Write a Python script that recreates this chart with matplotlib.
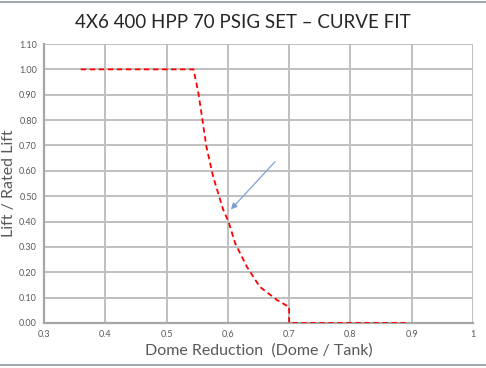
import matplotlib
matplotlib.use("Agg")
import matplotlib.pyplot as plt
from matplotlib.lines import Line2D

# Curve fit: lift ratio vs dome reduction
dome_ratio = [0.36, 0.544, 0.552, 0.565, 0.576, 0.5925, 0.601, 0.612, 0.631,
              0.652, 0.680, 0.699, 0.700, 0.700, 0.89]
lift_ratio = [1.00, 1.00, 0.906, 0.695, 0.577, 0.446, 0.400, 0.314, 0.222,
              0.143, 0.091, 0.064, 0.064, 0.0, 0.0]

arrow_tail = (0.677, 0.636)
arrow_head = (0.605, 0.448)

x_ticks = [0.3, 0.4, 0.5, 0.6, 0.7, 0.8, 0.9, 1.0]
x_tick_labels = ["0.3", "0.4", "0.5", "0.6", "0.7", "0.8", "0.9", "1"]
y_ticks = [0.0, 0.1, 0.2, 0.3, 0.4, 0.5, 0.6, 0.7, 0.8, 0.9, 1.0, 1.1]

plt.rcParams['font.family'] = ['Lato', 'DejaVu Sans']

fig = plt.figure(figsize=(4.86, 3.68), dpi=100)
ax = fig.add_axes([44/486, 1 - 323/368, (473-44)/486, (323-44)/368])

ax.set_xlim(0.3, 1.0)
ax.set_ylim(0.0, 1.1)
ax.set_xticks(x_ticks)
ax.set_xticklabels(x_tick_labels)
ax.set_yticks(y_ticks)
ax.set_yticklabels([f"{v:.2f}" for v in y_ticks])

grid_color = "#bfbfbf"
ax.grid(True, color=grid_color, linewidth=1.4)
ax.set_axisbelow(True)
for side in ["top", "right"]:
    ax.spines[side].set_visible(False)
for side in ["left", "bottom"]:
    ax.spines[side].set_color("#a6a6a6")
    ax.spines[side].set_linewidth(1.6)
ax.tick_params(length=0, labelsize=6.5, labelcolor="#595959", pad=5)

ax.plot(dome_ratio, lift_ratio, color="#ff0000", linestyle=(0, (3, 2)),
        linewidth=1.3, zorder=3)

ax.annotate("", xy=arrow_head, xytext=arrow_tail,
            arrowprops=dict(arrowstyle="-|>", color="#7f9fd4", lw=0.9,
                            mutation_scale=9, shrinkA=0, shrinkB=0),
            zorder=4)

ax.set_xlabel("Dome Reduction  (Dome / Tank)", fontsize=11.5, color="#595959",
              labelpad=3)
ax.set_ylabel("Lift / Rated Lift", fontsize=11.5, color="#595959")
ax.yaxis.set_label_coords(-0.066, 0.5)

fig.text(0.5 + 0.0, 1 - 22/368, "4X6 400 HPP 70 PSIG SET \u2013 CURVE FIT",
         ha="center", va="center", fontsize=13.5, color="#262626")

# frame lines at top and bottom
fig.add_artist(Line2D([0, 1], [1 - 1.5/368, 1 - 1.5/368], color="#8c96a0",
                      linewidth=1.2, transform=fig.transFigure))
fig.add_artist(Line2D([0, 1], [1 - 365/368, 1 - 365/368], color="#8c96a0",
                      linewidth=1.2, transform=fig.transFigure))

fig.savefig("out.png", dpi=100)
